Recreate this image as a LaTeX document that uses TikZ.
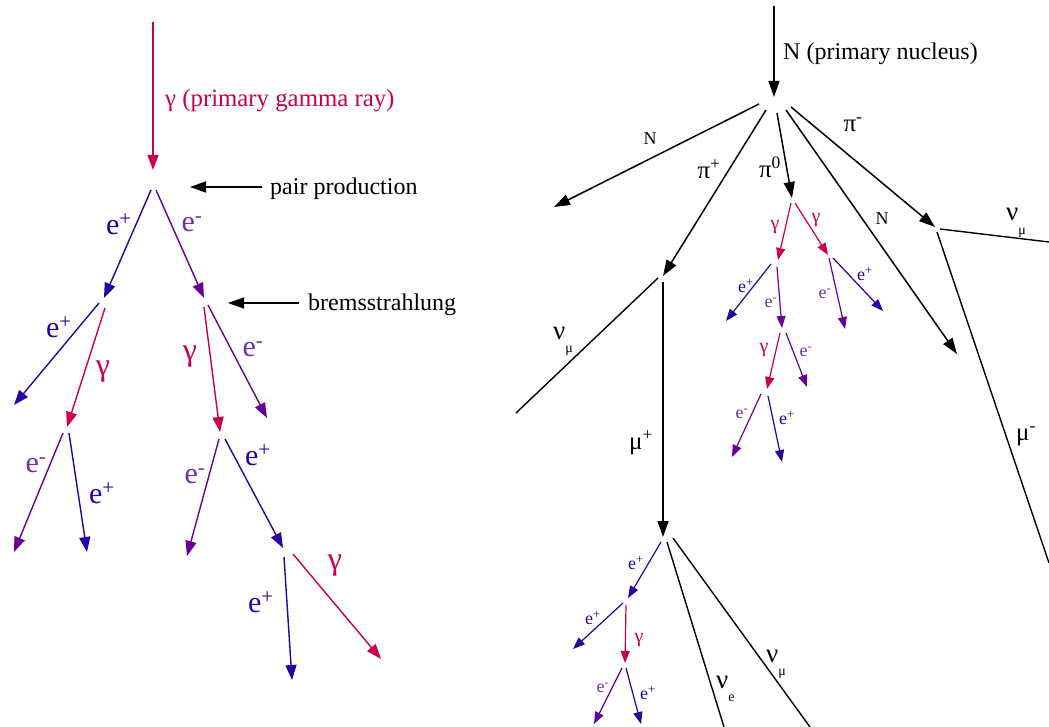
\documentclass[tikz,border=0pt]{standalone}
\usepackage{fontspec}
\setmainfont{Liberation Serif}
\usetikzlibrary{arrows.meta}
\definecolor{gcol}{RGB}{200,0,80}
\definecolor{pcol}{RGB}{42,0,158}
\definecolor{ecol}{RGB}{105,0,150}
\definecolor{elab}{RGB}{112,48,160}
\newcommand{\lowsub}[1]{\raisebox{-0.5em}{\fontsize{14}{14}\selectfont #1}}
\tikzset{
 bigarr/.style={-{Triangle[length=15pt,width=11pt]}, line width=1.4pt},
 smlarr/.style={-{Triangle[length=12pt,width=9pt]}, line width=1.2pt},
 blkarr/.style={-{Triangle[length=16pt,width=11pt]}, line width=1.5pt, black},
 plainln/.style={line width=1.4pt, black},
 biglbl/.style={inner sep=0pt, font=\fontsize{30}{34}\selectfont},
 gamlbl/.style={inner sep=0pt, font=\fontsize{32}{34}\selectfont},
 smllbl/.style={inner sep=0pt, font=\fontsize{18}{20}\selectfont},
 smgam/.style={inner sep=0pt, font=\fontsize{20}{22}\selectfont},
 midlbl/.style={inner sep=0pt, font=\fontsize{25}{28}\selectfont},
 nulbl/.style={inner sep=0pt, font=\fontsize{27}{28}\selectfont, anchor=base west},
 txt/.style={inner sep=0pt, font=\fontsize{24}{28}\selectfont, anchor=base west},
}
\begin{document}
\begin{tikzpicture}[x=1pt,y=-1pt]
\useasboundingbox (0,0) rectangle (1049,727);

% ---------------- left: electromagnetic shower ----------------
\coordinate (g0s) at (153,22); \coordinate (g0e) at (153,170);
\draw[bigarr,gcol] (g0s) -- (g0e);
\node[txt,gcol,font=\fontsize{24.8}{28}\selectfont] (lg0) at (165,107) {γ (primary gamma ray)};

\coordinate (a1s) at (151,190); \coordinate (a1e) at (104,298);
\coordinate (b1s) at (156,190); \coordinate (b1e) at (204,298);
\draw[bigarr,pcol] (a1s) -- (a1e);
\draw[bigarr,ecol] (b1s) -- (b1e);
\node[biglbl,pcol] (la1) at (119,224) {e\textsuperscript{+}};
\node[biglbl,elab] (lb1) at (192,224) {e\textsuperscript{-}};

\node[txt] (pp) at (270,195) {pair production};
\coordinate (pps) at (262,187); \coordinate (ppe) at (190,187);
\draw[blkarr] (pps) -- (ppe);
\node[txt] (bs) at (308,310) {bremsstrahlung};
\coordinate (bss) at (299,303); \coordinate (bse) at (228,303);
\draw[blkarr] (bss) -- (bse);

% from e+ vertex
\coordinate (a2s) at (99,303); \coordinate (a2e) at (14,405);
\coordinate (c2s) at (105,308); \coordinate (c2e) at (67,427);
\draw[bigarr,pcol] (a2s) -- (a2e);
\draw[bigarr,gcol] (c2s) -- (c2e);
\node[biglbl,pcol] (la2) at (59,327) {e\textsuperscript{+}};
\node[gamlbl,gcol] (lc2) at (103,372) {γ};

% from e- vertex
\coordinate (d2s) at (204,307); \coordinate (d2e) at (220,432);
\coordinate (b2s) at (208,305); \coordinate (b2e) at (267,418);
\draw[bigarr,gcol] (d2s) -- (d2e);
\draw[bigarr,ecol] (b2s) -- (b2e);
\node[gamlbl,gcol] (ld2) at (190,357) {γ};
\node[biglbl,elab] (lb2) at (253,349) {e\textsuperscript{-}};

% from left gamma vertex
\coordinate (e3s) at (63,433); \coordinate (e3e) at (14,552);
\coordinate (f3s) at (69,433); \coordinate (f3e) at (87,552);
\draw[bigarr,ecol] (e3s) -- (e3e);
\draw[bigarr,pcol] (f3s) -- (f3e);
\node[biglbl,elab] (le3) at (36,465) {e\textsuperscript{-}};
\node[biglbl,pcol] (lf3) at (102,493) {e\textsuperscript{+}};

% from right gamma vertex
\coordinate (g3s) at (219,439); \coordinate (g3e) at (187,556);
\coordinate (h3s) at (225,439); \coordinate (h3e) at (283,548);
\draw[bigarr,ecol] (g3s) -- (g3e);
\draw[bigarr,pcol] (h3s) -- (h3e);
\node[biglbl,elab] (lg3) at (195,476) {e\textsuperscript{-}};
\node[biglbl,pcol] (lh3) at (258,455) {e\textsuperscript{+}};

% from bottom e+ vertex
\coordinate (i4s) at (284,557); \coordinate (i4e) at (292,680);
\coordinate (j4s) at (293,554); \coordinate (j4e) at (381,659);
\draw[bigarr,pcol] (i4s) -- (i4e);
\draw[bigarr,gcol] (j4s) -- (j4e);
\node[biglbl,pcol] (li4) at (261,602) {e\textsuperscript{+}};
\node[gamlbl,gcol] (lj4) at (335,566) {γ};

% ---------------- right: hadronic shower ----------------
\coordinate (Ns) at (774,6); \coordinate (Ne) at (774,97);
\draw[blkarr] (Ns) -- (Ne);
\node[txt] (lN) at (783,60) {N (primary nucleus)};

\coordinate (n1s) at (759,104); \coordinate (n1e) at (554,207);
\draw[blkarr] (n1s) -- (n1e);
\node[smllbl] (ln1) at (650,139) {N};

\coordinate (pps1) at (766,110); \coordinate (ppe1) at (663,276);
\draw[blkarr] (pps1) -- (ppe1);
\node[midlbl] (lpp) at (709,169) {π\textsuperscript{+}};

\coordinate (p0s) at (777,113); \coordinate (p0e) at (792,198);
\draw[blkarr] (p0s) -- (p0e);
\node[midlbl] (lp0) at (770,167) {π\textsuperscript{0}};

\coordinate (n2s) at (786,110); \coordinate (n2e) at (957,354);
\draw[blkarr] (n2s) -- (n2e);
\node[smllbl] (ln2) at (882,219) {N};

\coordinate (pms) at (791,107); \coordinate (pme) at (935,227);
\draw[blkarr] (pms) -- (pme);
\node[midlbl] (lpm) at (853,125) {π\textsuperscript{-}};

\coordinate (vm1s) at (940,229); \coordinate (vm1e) at (1049,242);
\draw[plainln] (vm1s) -- (vm1e);
\node[nulbl] (lvm1) at (1006,221) {ν\lowsub{μ}};

\coordinate (mms) at (937,232); \coordinate (mme) at (1049,563);
\draw[plainln] (mms) -- (mme);
\node[midlbl] (lmm) at (1026,436) {μ\textsuperscript{-}};

\coordinate (vm2s) at (658,278); \coordinate (vm2e) at (516,413);
\draw[plainln] (vm2s) -- (vm2e);
\node[nulbl] (lvm2) at (553,339) {ν\lowsub{μ}};

\coordinate (mps) at (663,282); \coordinate (mpe) at (663,537);
\draw[blkarr] (mps) -- (mpe);
\node[midlbl] (lmp) at (641,443) {μ\textsuperscript{+}};

% pi0 cascade
\coordinate (q1s) at (791,203); \coordinate (q1e) at (778,260);
\coordinate (q2s) at (795,203); \coordinate (q2e) at (828,255);
\draw[smlarr,gcol] (q1s) -- (q1e);
\draw[smlarr,gcol] (q2s) -- (q2e);
\node[smgam,gcol] (lq1) at (775,227) {γ};
\node[smgam,gcol] (lq2) at (816,220) {γ};

\coordinate (r1s) at (771,264); \coordinate (r1e) at (726,321);
\coordinate (r2s) at (777,267); \coordinate (r2e) at (782,328);
\draw[smlarr,pcol] (r1s) -- (r1e);
\draw[smlarr,ecol] (r2s) -- (r2e);
\node[smllbl,pcol] (lr1) at (746,286) {e\textsuperscript{+}};
\node[smllbl,elab] (lr2) at (771,303) {e\textsuperscript{-}};

\coordinate (s1s) at (829,258); \coordinate (s1e) at (845,329);
\coordinate (s2s) at (833,258); \coordinate (s2e) at (883,311);
\draw[smlarr,ecol] (s1s) -- (s1e);
\draw[smlarr,pcol] (s2s) -- (s2e);
\node[smllbl,elab] (ls1) at (825,294) {e\textsuperscript{-}};
\node[smllbl,pcol] (ls2) at (865,274) {e\textsuperscript{+}};

\coordinate (t1s) at (780,333); \coordinate (t1e) at (767,389);
\coordinate (t2s) at (786,333); \coordinate (t2e) at (807,387);
\draw[smlarr,gcol] (t1s) -- (t1e);
\draw[smlarr,ecol] (t2s) -- (t2e);
\node[smgam,gcol] (lt1) at (764,350) {γ};
\node[smllbl,elab] (lt2) at (806,352) {e\textsuperscript{-}};

\coordinate (u1s) at (761,394); \coordinate (u1e) at (732,457);
\coordinate (u2s) at (768,396); \coordinate (u2e) at (782,462);
\draw[smlarr,ecol] (u1s) -- (u1e);
\draw[smlarr,pcol] (u2s) -- (u2e);
\node[smllbl,elab] (lu1) at (742,414) {e\textsuperscript{-}};
\node[smllbl,pcol] (lu2) at (787,418) {e\textsuperscript{+}};

% mu+ decay
\coordinate (w1s) at (661,542); \coordinate (w1e) at (628,598);
\draw[smlarr,pcol] (w1s) -- (w1e);
\node[smllbl,pcol] (lw1) at (636,563) {e\textsuperscript{+}};

\coordinate (ves) at (667,542); \coordinate (vee) at (724,727);
\draw[plainln] (ves) -- (vee);
\node[nulbl] (lve) at (716,688) {ν\lowsub{e}};

\coordinate (vm3s) at (673,538); \coordinate (vm3e) at (810,727);
\draw[plainln] (vm3s) -- (vm3e);
\node[nulbl] (lvm3) at (766,662) {ν\lowsub{μ}};

\coordinate (x1s) at (623,603); \coordinate (x1e) at (573,649);
\coordinate (x2s) at (626,605); \coordinate (x2e) at (625,663);
\draw[smlarr,pcol] (x1s) -- (x1e);
\draw[smlarr,gcol] (x2s) -- (x2e);
\node[smllbl,pcol] (lx1) at (593,618) {e\textsuperscript{+}};
\node[smgam,gcol] (lx2) at (639,640) {γ};

\coordinate (y1s) at (622,668); \coordinate (y1e) at (594,724);
\coordinate (y2s) at (626,668); \coordinate (y2e) at (641,724);
\draw[smlarr,ecol] (y1s) -- (y1e);
\draw[smlarr,pcol] (y2s) -- (y2e);
\node[smllbl,elab] (ly1) at (603,688) {e\textsuperscript{-}};
\node[smllbl,pcol] (ly2) at (648,693) {e\textsuperscript{+}};
\end{tikzpicture}
\end{document}
